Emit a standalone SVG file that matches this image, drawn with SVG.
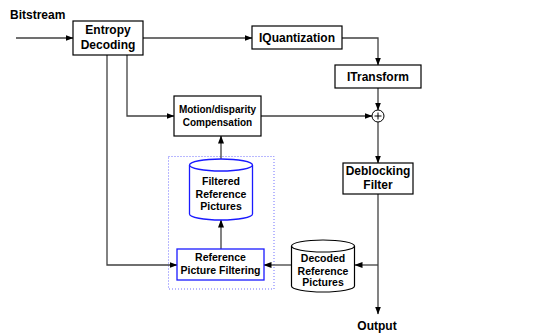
<svg xmlns="http://www.w3.org/2000/svg" width="559" height="336" viewBox="0 0 559 336">
<style>
.box{fill:#fff;stroke:#000;stroke-width:1.2}
.bbox{fill:#fff;stroke:#1a1aff;stroke-width:1.3}
.t{font-family:"Liberation Sans",Arial,sans-serif;font-weight:bold;fill:#000;text-anchor:middle}
.c{fill:none;stroke:#404040;stroke-width:1.3}
</style>
<defs>
<marker id="ah" markerWidth="8" markerHeight="6" refX="7.5" refY="3" orient="auto" markerUnits="userSpaceOnUse">
<path d="M0,0 L8,3 L0,6 Z" fill="#000"/>
</marker>
</defs>
<rect x="168.5" y="156.5" width="105.5" height="132.5" fill="none" stroke="#7070ff" stroke-width="1" stroke-dasharray="1,2"/>
<g id="connectors">
<path class="c" d="M16,38 H73" marker-end="url(#ah)"/>
<path class="c" d="M143,38 H252" marker-end="url(#ah)"/>
<path class="c" d="M342,38 H378 V65" marker-end="url(#ah)"/>
<path class="c" d="M378,88 V110" marker-end="url(#ah)"/>
<path class="c" d="M261,116 H372" marker-end="url(#ah)"/>
<path class="c" d="M378,122 V163" marker-end="url(#ah)"/>
<path class="c" d="M127,55 V116 H174" marker-end="url(#ah)"/>
<path class="c" d="M107,55 V265 H177" marker-end="url(#ah)"/>
<path class="c" d="M221,159 V136" marker-end="url(#ah)"/>
<path class="c" d="M221,249 V220" marker-end="url(#ah)"/>
<path class="c" d="M292,265 H264" marker-end="url(#ah)"/>
<path class="c" d="M378,194 V314" marker-end="url(#ah)"/>
<path class="c" d="M378,265 H355" marker-end="url(#ah)"/>
</g>
<text class="t" x="10" y="19" font-size="12" text-anchor="start" style="text-anchor:start">Bitstream</text>
<g id="entropy">
<rect class="box" x="73" y="21" width="70" height="34"/>
<text class="t" x="108" y="34" font-size="12">Entropy</text>
<text class="t" x="108" y="48.5" font-size="12">Decoding</text>
</g>
<g id="iquant">
<rect class="box" x="252" y="26" width="90" height="23"/>
<text class="t" x="297" y="41.5" font-size="12">IQuantization</text>
</g>
<g id="itransform">
<rect class="box" x="335" y="65" width="86" height="23"/>
<text class="t" x="378" y="80.5" font-size="12">ITransform</text>
</g>
<g id="sum">
<circle cx="378" cy="116" r="6" fill="#fff" stroke="#000" stroke-width="1"/>
<path d="M374.5,116 H381.5 M378,112.5 V119.5" stroke="#000" stroke-width="1"/>
</g>
<g id="motion">
<rect class="box" x="174" y="96" width="87" height="40"/>
<text class="t" x="217.5" y="112.5" font-size="10">Motion/disparity</text>
<text class="t" x="217.5" y="125.5" font-size="10">Compensation</text>
</g>
<g id="deblocking">
<rect class="box" x="343" y="163" width="70" height="31"/>
<text class="t" x="378" y="174.5" font-size="12">Deblocking</text>
<text class="t" x="378" y="189" font-size="12">Filter</text>
</g>
<g id="filtered">
<path class="bbox" d="M189.5,165 A31.5,6 0 0 1 252.5,165 V214 A31.5,6 0 0 1 189.5,214 Z"/>
<path d="M189.5,165 A31.5,6 0 0 0 252.5,165" fill="none" stroke="#1a1aff" stroke-width="1.3"/>
<text class="t" x="221" y="184.5" font-size="10.5">Filtered</text>
<text class="t" x="221" y="197.5" font-size="10.5">Reference</text>
<text class="t" x="221" y="209.5" font-size="10.5">Pictures</text>
</g>
<g id="rpf">
<rect class="bbox" x="177" y="249" width="87" height="31"/>
<text class="t" x="220.5" y="260.5" font-size="10.5">Reference</text>
<text class="t" x="220.5" y="274" font-size="10.5">Picture Filtering</text>
</g>
<g id="decoded">
<path class="box" d="M291.5,246 A31.5,6 0 0 1 354.5,246 V286 A31.5,6 0 0 1 291.5,286 Z"/>
<path d="M291.5,246 A31.5,6 0 0 0 354.5,246" fill="none" stroke="#000" stroke-width="1.2"/>
<text class="t" x="323" y="262" font-size="10.5">Decoded</text>
<text class="t" x="323" y="274.5" font-size="10.5">Reference</text>
<text class="t" x="323" y="286" font-size="10.5">Pictures</text>
</g>
<text class="t" x="377" y="330" font-size="12">Output</text>
</svg>
